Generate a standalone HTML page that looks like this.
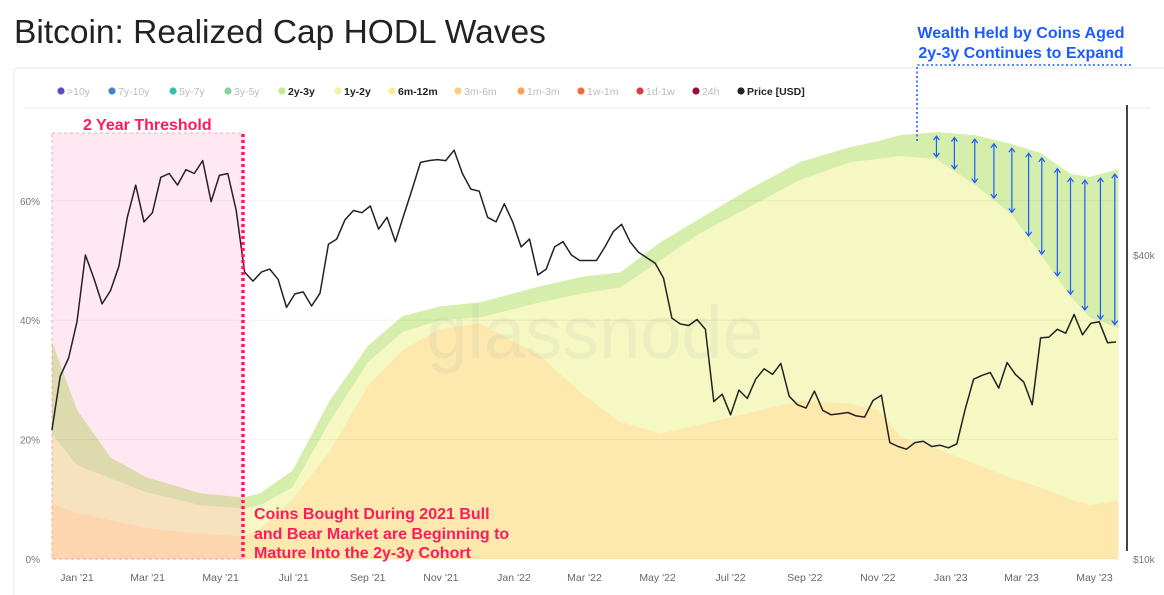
<!DOCTYPE html>
<html><head><meta charset="utf-8"><style>
html,body{margin:0;padding:0;background:#fff;}
svg{display:block;font-family:"Liberation Sans",sans-serif;}
</style></head><body>
<svg id="chart" width="1164" height="595" viewBox="0 0 1164 595">
<text x="14" y="43" font-size="33.5" fill="#222">Bitcoin: Realized Cap HODL Waves</text>
<rect x="14" y="68" width="1160" height="540" rx="4" fill="#fff" stroke="#e6e6e6"/>
<line x1="24" y1="108" x2="1150" y2="108" stroke="#eee"/>
<g id="legend"></g>
<g id="areas"></g>
<rect x="52" y="133" width="191" height="426" fill="rgba(255,140,185,0.2)" stroke="#ff8fb0" stroke-dasharray="3,3" stroke-width="0.8"/>
<text x="595" y="358" font-size="74" fill="rgba(170,170,170,0.13)" text-anchor="middle">glassnode</text>
<g id="yaxis"></g>
<g id="xaxis"></g>
<line x1="1127" y1="105" x2="1127" y2="551" stroke="#444" stroke-width="2"/>
<g id="price"></g>
<line x1="243" y1="134" x2="243" y2="559" stroke="#ff1a5c" stroke-width="3.5" stroke-dasharray="3,3"/>
<text x="83" y="130" font-size="16" font-weight="bold" fill="#ff1a5c">2 Year Threshold</text>
<g font-size="16" font-weight="bold" fill="#ff1a5c">
<text x="254" y="519">Coins Bought During 2021 Bull</text>
<text x="254" y="539">and Bear Market are Beginning to</text>
<text x="254" y="558">Mature Into the 2y-3y Cohort</text>
</g>
<g font-size="16" font-weight="bold" fill="#1a5cff" text-anchor="middle">
<text x="1021" y="38">Wealth Held by Coins Aged</text>
<text x="1021" y="58">2y-3y Continues to Expand</text>
</g>
<polyline points="1131,65 917,65 917,143" fill="none" stroke="#1a5cff" stroke-width="1.6" stroke-dasharray="2,2.5"/>
<g id="arrows"></g>
</svg>
<script>
const anchorDays=[-21,0,28,58,103,139,153,180,211,243,272,303,337,387,423,454,487,520,562,604,646,669,688,718,750,781,805,830,846,870];
const share6m12m=[9.3,7.7,6.5,5.2,4.2,3.8,5,10,18,29,35,38.5,39.5,34,27.5,23,21,22.5,24.5,26.5,26,25,20.5,18.5,16,13.5,12,10,9,9.8];
const share1y2y=[11.7,8,7,6,4.8,4.7,4,2,5,4,3,1.5,1,9,17,22.5,29,32,34.5,37,40.5,42,47,48.5,46.7,44.2,39,34,31.5,28.9];
const share2y3y=[15.5,9.3,3.5,2.5,2,1.8,2,2.8,3.5,2.7,2.7,2.3,2.5,2.7,2.8,2.5,3,2.5,3,3,2.5,3,3.5,4.5,8.3,11.8,17,20.5,23.5,26.6];
const priceStartDay=-21;
const priceUSD=[18000,23000,25000,29500,40000,36000,32000,34000,38000,47500,55000,46500,48500,57000,58000,55000,59000,58000,61500,51000,57500,58000,49000,37000,35500,37000,37500,35800,31500,33500,33800,31700,33600,42000,43000,47000,49000,48500,50000,45000,47500,42500,48000,54000,61000,61500,61800,61500,64500,58000,54000,53500,47500,46500,50500,46500,41500,43000,36500,37500,41500,42500,40000,39000,39000,39000,41500,44500,46000,42500,40500,39500,38500,36000,30000,29200,29000,29800,28500,20500,21200,19300,21600,20800,22700,23800,23200,24400,21000,20200,19900,21500,19700,19300,19400,19500,19200,19100,20600,21100,17000,16700,16500,17000,17100,16700,16800,16600,16900,19800,22700,23100,23400,21800,24500,23200,22400,20200,27400,27500,28500,28000,30500,27800,29300,29500,26800,26900];
const xTickLabels=["Jan '21","Mar '21","May '21","Jul '21","Sep '21","Nov '21","Jan '22","Mar '22","May '22","Jul '22","Sep '22","Nov '22","Jan '23","Mar '23","May '23"];
const xTickDays=[0,59,120,181,243,304,365,424,485,546,608,669,730,789,850];
const yTicks=[0,20,40,60];
const priceTicks=[10000,40000];
const priceTickLabels=["$10k","$40k"];
const arrowDays=[718,733,750,766,781,795,806,819,830,842,855,867];
const legendLabels=[">10y","7y-10y","5y-7y","3y-5y","2y-3y","1y-2y","6m-12m","3m-6m","1m-3m","1w-1m","1d-1w","24h","Price [USD]"];
const legendColors=["#5b4db8","#3d87c8","#3bbcb0","#86d49a","#c4ea8e","#f2f3a0","#fde99a","#fdcd80","#fca05a","#f4683f","#d83c4e","#9b0a42","#222"];
const legendActive=[0,0,0,0,1,1,1,0,0,0,0,0,1];
const legendX=[61,112,173,228,282,338,392,458,521,581,640,696,741];

const NS="http://www.w3.org/2000/svg";
const xOf=d=>77+d*1.197;
const yPct=p=>559-p*5.97;
const yPrice=v=>559-505*Math.log10(v/10000);
function mk(tag,attrs,parent){const e=document.createElementNS(NS,tag);for(const k in attrs)e.setAttribute(k,attrs[k]);parent.appendChild(e);return e;}

const cumA=share6m12m.slice();
const cumB=share6m12m.map((v,i)=>v+share1y2y[i]);
const cumC=cumB.map((v,i)=>v+share2y3y[i]);
function interp(arr,d){for(let i=0;i<anchorDays.length-1;i++){if(d<=anchorDays[i+1]){const t=(d-anchorDays[i])/(anchorDays[i+1]-anchorDays[i]);return arr[i]+t*(arr[i+1]-arr[i]);}}return arr[arr.length-1];}
const areasG=document.getElementById('areas');
const layers=[[cumC,"#d5eeab","area-2y-3y"],[cumB,"#f5f8c2","area-1y-2y"],[cumA,"#fde9ad","area-6m-12m"]];
layers.forEach(([arr,col,name])=>{
  let pts=anchorDays.map((d,i)=>xOf(d).toFixed(1)+","+yPct(arr[i]).toFixed(1));
  pts.push(xOf(anchorDays[anchorDays.length-1]).toFixed(1)+","+yPct(0));
  pts.push(xOf(anchorDays[0]).toFixed(1)+","+yPct(0));
  const p=mk('polygon',{points:pts.join(" "),fill:col},areasG);
  
  
});

const yG=document.getElementById('yaxis');
yTicks.forEach(t=>{
  const l=mk('line',{x1:52,x2:1118,y1:yPct(t),y2:yPct(t),stroke:"rgba(0,0,0,0.05)"},yG);
  
  
  const tx=mk('text',{x:40,y:yPct(t)+4,"font-size":10,fill:"#777","text-anchor":"end"},yG);
  tx.textContent=t+"%";
  
  
});
priceTicks.forEach((v,i)=>{
  const tx=mk('text',{x:1133,y:yPrice(v)+4,"font-size":10,fill:"#777"},yG);
  tx.textContent=priceTickLabels[i];
  
  
});
const xG=document.getElementById('xaxis');
xTickLabels.forEach((lab,i)=>{
  const tx=mk('text',{x:xOf(xTickDays[i]),y:581,"font-size":10.5,fill:"#666","text-anchor":"middle"},xG);
  tx.textContent=lab;
  
  
});
const pG=document.getElementById('price');
const ppts=priceUSD.map((v,i)=>xOf(priceStartDay+i*7).toFixed(1)+","+yPrice(v).toFixed(1)).join(" ");
const pl=mk('polyline',{points:ppts,fill:"none",stroke:"#222","stroke-width":1.5,"stroke-linejoin":"round"},pG);


const aG=document.getElementById('arrows');
arrowDays.forEach(d=>{
  const x=xOf(d),y1=yPct(interp(cumC,d))+4,y2=yPct(interp(cumB,d))-2;
  const g=mk('g',{stroke:"#1a5cff","stroke-width":1.2,fill:"none"},aG);
  
  
  mk('line',{x1:x,x2:x,y1:y1,y2:y2},g);
  mk('polyline',{points:`${x-3},${y1+4} ${x},${y1} ${x+3},${y1+4}`},g);
  mk('polyline',{points:`${x-3},${y2-4} ${x},${y2} ${x+3},${y2-4}`},g);
});
const lG=document.getElementById('legend');
legendLabels.forEach((lab,i)=>{
  const g=mk('g',{},lG);
  
  
  mk('circle',{cx:legendX[i],cy:91,r:3.6,fill:legendColors[i]},g);
  const t=mk('text',{x:legendX[i]+6,y:95,"font-size":10.5,fill:legendActive[i]?"#222":"#bbb","font-weight":legendActive[i]?"bold":"normal"},g);
  t.textContent=lab;
});
</script>
</body></html>
